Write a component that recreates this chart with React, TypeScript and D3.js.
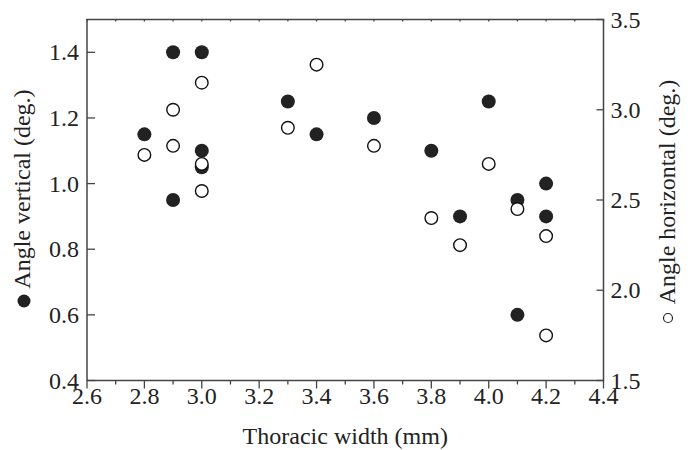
import React from "react";
import * as d3 from "d3";

const widthCategories = [2.8, 2.9, 2.9, 3.0, 3.0, 3.0, 3.3, 3.4, 3.6, 3.8, 3.9, 4.0, 4.1, 4.1, 4.2, 4.2];
const verticalValues = [1.15, 1.4, 0.95, 1.4, 1.1, 1.05, 1.25, 1.15, 1.2, 1.1, 0.9, 1.25, 0.95, 0.6, 1.0, 0.9];

const horizontalWidths = [2.8, 2.9, 2.9, 3.0, 3.0, 3.0, 3.3, 3.4, 3.6, 3.8, 3.9, 4.0, 4.1, 4.2, 4.2];
const horizontalValues = [2.75, 3.0, 2.8, 3.15, 2.7, 2.55, 2.9, 3.25, 2.8, 2.4, 2.25, 2.7, 2.45, 2.3, 1.75];

const xTicks = [2.6, 2.8, 3.0, 3.2, 3.4, 3.6, 3.8, 4.0, 4.2, 4.4];
const xMinorTicks = [2.7, 2.9, 3.1, 3.3, 3.5, 3.7, 3.9, 4.1, 4.3];
const leftTicks = [0.4, 0.6, 0.8, 1.0, 1.2, 1.4];
const rightTicks = [1.5, 2.0, 2.5, 3.0, 3.5];

const W = 690;
const H = 450;
const L = 87;
const R = 603.5;
const T = 19.5;
const B = 380.5;

export default function App() {
  const x = d3.scaleLinear().domain([2.6, 4.4]).range([L, R]);
  const yL = d3.scaleLinear().domain([0.4, 1.5]).range([B, T]);
  const yR = d3.scaleLinear().domain([1.5, 3.5]).range([B, T]);
  const font = "'Liberation Serif', 'Times New Roman', serif";
  const axisColor = "#444";
  const fs = 24;
  const textColor = "#222";

  return (
    <svg width={W} height={H} style={{ position: "absolute", left: 0, top: 0 }} fontFamily={font}>
      <rect width={W} height={H} fill="white" />
      {/* frame */}
      <rect x={L} y={T} width={R - L} height={B - T} fill="none" stroke={axisColor} strokeWidth={1.5} />
      {/* bottom ticks (outward) */}
      {xTicks.map((t) => (
        <line key={"xb" + t} x1={x(t)} x2={x(t)} y1={B} y2={B + 8} stroke={axisColor} strokeWidth={1.3} />
      ))}
      {xMinorTicks.map((t) => (
        <line key={"xm" + t} x1={x(t)} x2={x(t)} y1={B} y2={B + 4} stroke={axisColor} strokeWidth={1.3} />
      ))}
      {/* top ticks (small inward) */}
      {[...xTicks, ...xMinorTicks].map((t) => (
        <line key={"xt" + t} x1={x(t)} x2={x(t)} y1={T} y2={T + 2} stroke={axisColor} strokeWidth={1.3} />
      ))}
      {/* bottom tick labels */}
      {xTicks.map((t) => (
        <text key={"xl" + t} x={x(t)} y={404} fontSize={fs} textAnchor="middle" fill={textColor}>
          {t.toFixed(1)}
        </text>
      ))}
      {/* left ticks */}
      {leftTicks.map((t) => (
        <g key={"yl" + t}>
          <line x1={L} x2={L + 8} y1={yL(t)} y2={yL(t)} stroke={axisColor} strokeWidth={1.3} />
          <text x={L - 8} y={yL(t) + 8} fontSize={fs} textAnchor="end" fill={textColor}>
            {t.toFixed(1)}
          </text>
        </g>
      ))}
      {/* right ticks */}
      {rightTicks.map((t) => (
        <g key={"yr" + t}>
          <line x1={R - 7} x2={R} y1={yR(t)} y2={yR(t)} stroke={axisColor} strokeWidth={1.3} />
          <text x={R + 7} y={yR(t) + 8} fontSize={fs} textAnchor="start" fill={textColor}>
            {t.toFixed(1)}
          </text>
        </g>
      ))}
      {/* axis titles */}
      <text x={(L + R) / 2} y={444} fontSize={fs} textAnchor="middle" fill={textColor}>
        Thoracic width (mm)
      </text>
      <text transform={`translate(30, 189) rotate(-90)`} fontSize={fs} textAnchor="middle" fill={textColor}>
        Angle vertical (deg.)
      </text>
      <circle cx={24} cy={301} r={6.5} fill={textColor} />
      <text transform={`translate(675, 192) rotate(-90)`} fontSize={fs} textAnchor="middle" fill={textColor}>
        Angle horizontal (deg.)
      </text>
      <circle cx={668} cy={318} r={4.5} fill="white" stroke={textColor} strokeWidth={1.2} />
      {/* filled series: vertical angle */}
      {widthCategories.map((w, i) => (
        <circle key={"v" + i} cx={x(w)} cy={yL(verticalValues[i])} r={7} fill="#222" />
      ))}
      {/* open series: horizontal angle */}
      {horizontalWidths.map((w, i) => (
        <circle
          key={"h" + i}
          cx={x(w)}
          cy={yR(horizontalValues[i])}
          r={6.3}
          fill="white"
          stroke="#111"
          strokeWidth={1.4}
        />
      ))}
    </svg>
  );
}
